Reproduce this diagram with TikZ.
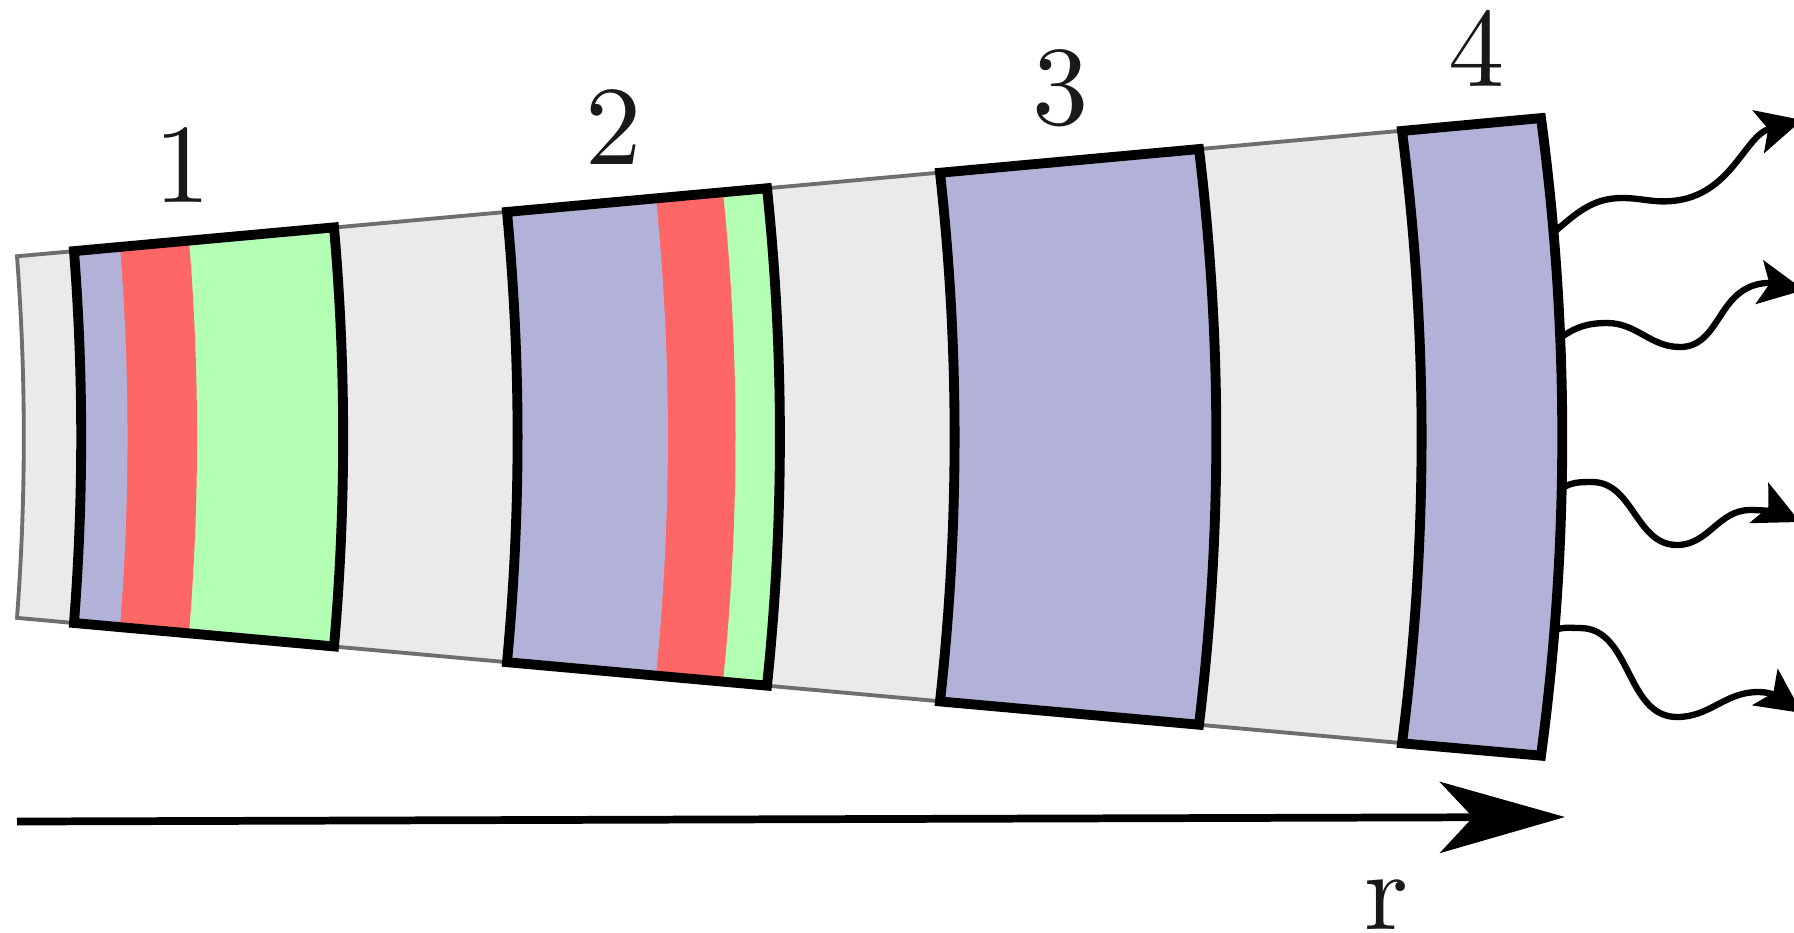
\documentclass[tikz,border=0pt]{standalone}
\usepackage{fontspec}
\usetikzlibrary{arrows.meta}
\newfontfamily\labfont[Extension=.otf]{lmroman10-regular}
\definecolor{bandgray}{RGB}{234,234,234}
\definecolor{bandline}{RGB}{110,110,110}
\definecolor{lav}{RGB}{178,178,216}
\definecolor{salmon}{RGB}{255,102,102}
\definecolor{mint}{RGB}{179,255,179}
% wedge geometry (units: px of the reference, y up)
\def\Ox{-1980}
\def\Cy{437}
\def\tA{0.0905}
\def\Rr{2400}
\newcommand\wsect[3]{%
  \pgfmathsetmacro\hL{\tA*(#2-(\Ox))}%
  \pgfmathsetmacro\hR{\tA*(#3-(\Ox))}%
  \pgfmathsetmacro\aL{asin(\hL/\Rr)}%
  \pgfmathsetmacro\aR{asin(\hR/\Rr)}%
  \path[#1] (#2,{\hL-\Cy}) arc[start angle=\aL, end angle=-\aL, radius=24cm]
     -- (#3,{-\hR-\Cy}) arc[start angle=-\aR, end angle=\aR, radius=24cm] -- cycle;}
\begin{document}
\begin{tikzpicture}[x=0.01cm,y=0.01cm,
  blockline/.style={draw=black, line width=2.8pt},
  bandstyle/.style={fill=bandgray, draw=bandline, line width=1.1pt},
  lab/.style={font=\labfont\fontsize{32}{38}\selectfont, text=black!90, inner sep=0pt, anchor=base},
  wave/.style={draw=black, line width=1.8pt, -{Stealth[length=0.45cm, width=0.44cm, inset=0.1cm]}},
  axisarrow/.style={draw=black, line width=2.2pt, -{Stealth[length=1.25cm, width=0.71cm, inset=0.33cm]}}]
\useasboundingbox (0,0) rectangle (1794,-932);
% band
\wsect{bandstyle}{17}{1541}
% block 1
\wsect{fill=mint}{74}{334}
\wsect{fill=salmon}{74}{189}
\wsect{fill=lav}{74}{120}
\wsect{blockline}{74}{334}
% block 2
\wsect{fill=mint}{507}{767}
\wsect{fill=salmon}{507}{723}
\wsect{fill=lav}{507}{656}
\wsect{blockline}{507}{767}
% block 3
\wsect{fill=lav}{940}{1199}
\wsect{blockline}{940}{1199}
% block 4
\wsect{fill=lav}{1402}{1541}
\wsect{blockline}{1402}{1541}
% labels
\node[lab] (l1) at (183,-202) {1};
\node[lab] (l2) at (614,-164) {2};
\node[lab] (l3) at (1061,-124) {3};
\node[lab] (l4) at (1477,-86) {4};
\node[lab] (lr) at (1387,-929) {r};
% axis
\coordinate (ax0) at (17,-821.5);
\coordinate (ax1) at (1565,-817);
\draw[axisarrow] (ax0) -- (ax1);
% waves
\coordinate (s1) at (1553,-233);
\coordinate (p1) at (1622,-198);
\coordinate (q1) at (1672,-201);
\coordinate (e1) at (1802,-120);
\draw[wave] (s1) to[out=40,in=180] (p1) to[out=0,in=185] (q1) to[out=5,in=195] (e1);
\coordinate (s2) at (1560,-338);
\coordinate (p2) at (1607,-323);
\coordinate (q2) at (1680,-347);
\coordinate (m2) at (1752,-286);
\coordinate (e2) at (1804,-290);
\draw[wave] (s2) to[out=35,in=180] (p2) to[out=0,in=180] (q2) to[out=0,in=200] (m2) to[out=20,in=170] (e2);
\coordinate (s3) at (1562,-488);
\coordinate (p3) at (1592,-482);
\coordinate (q3) at (1677,-545);
\coordinate (m3) at (1750,-510);
\coordinate (e3) at (1800,-522);
\draw[wave] (s3) to[out=30,in=180] (p3) to[out=0,in=180] (q3) to[out=0,in=180] (m3) to[out=0,in=155] (e3);
\coordinate (s4) at (1555,-630);
\coordinate (p4) at (1580,-628);
\coordinate (q4) at (1677,-717);
\coordinate (m4) at (1758,-692);
\coordinate (e4) at (1802,-713);
\draw[wave] (s4) to[out=20,in=180] (p4) to[out=0,in=180] (q4) to[out=0,in=180] (m4) to[out=0,in=145] (e4);
\end{tikzpicture}
\end{document}
